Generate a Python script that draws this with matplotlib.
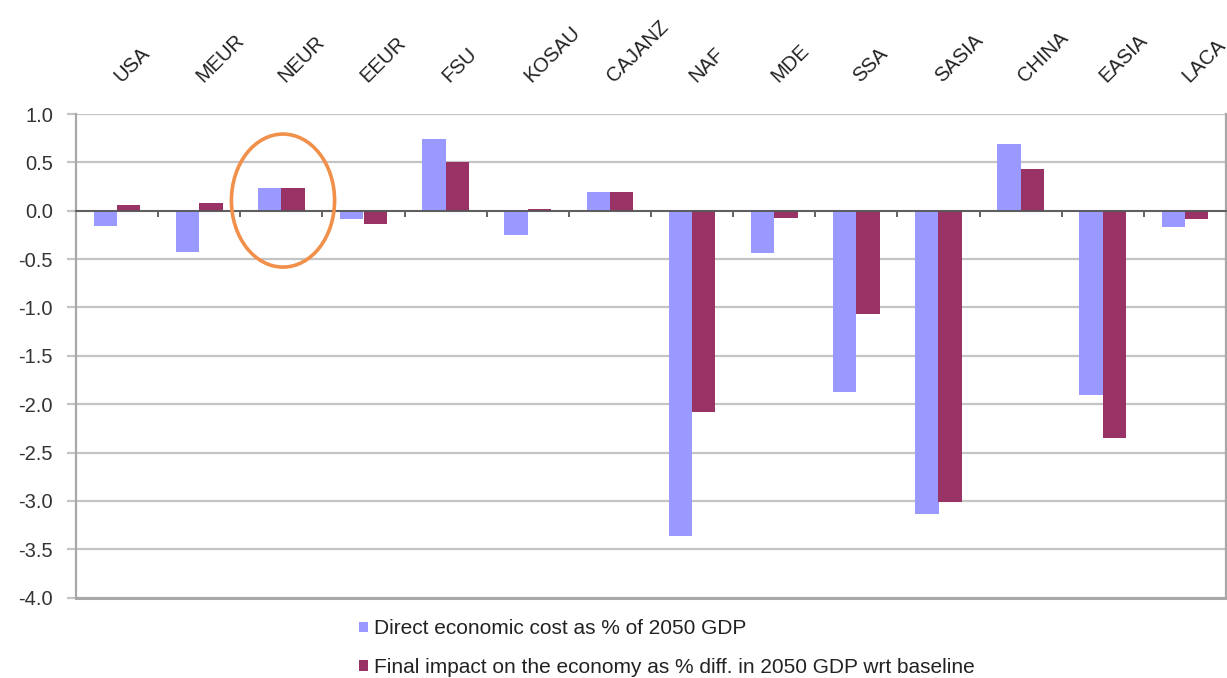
import matplotlib
matplotlib.use("Agg")
import matplotlib.pyplot as plt
from matplotlib.patches import Ellipse, Patch
import numpy as np

regions = ["USA", "MEUR", "NEUR", "EEUR", "FSU", "KOSAU", "CAJANZ", "NAF",
           "MDE", "SSA", "SASIA", "CHINA", "EASIA", "LACA"]
direct_cost = [-0.16, -0.43, 0.24, -0.09, 0.74, -0.25, 0.19, -3.36,
               -0.44, -1.87, -3.13, 0.69, -1.90, -0.17]
final_impact = [0.06, 0.08, 0.24, -0.14, 0.50, 0.02, 0.19, -2.08,
                -0.07, -1.07, -3.01, 0.43, -2.35, -0.09]
yticks = [1.0, 0.5, 0.0, -0.5, -1.0, -1.5, -2.0, -2.5, -3.0, -3.5, -4.0]
legend_labels = ["Direct economic cost as % of 2050 GDP",
                 "Final impact on the economy as % diff. in 2050 GDP wrt baseline"]

plt.rcParams['font.family'] = ['Liberation Sans', 'DejaVu Sans']

fig = plt.figure(figsize=(12.27, 6.78), dpi=100)
ax = fig.add_axes([76/1227, 80.3/678, 1150/1227, 483.7/678])

x = np.arange(len(regions))
w = 0.285
c1, c2 = "#9999FF", "#993366"
ax.bar(x - w/2, direct_cost, width=w, color=c1, zorder=3)
ax.bar(x + w/2, final_impact, width=w, color=c2, zorder=3)

ax.set_xlim(-0.5, len(regions) - 0.5)
ax.set_ylim(-4.0, 1.0)
ax.set_yticks(yticks)
ax.set_yticklabels([f"{v:.1f}" for v in yticks])
ax.yaxis.grid(True, color="#C4C4C4", lw=1.6, zorder=0)
ax.tick_params(axis='y', length=6.5, width=1.6, color="#C4C4C4",
               labelsize=14.5, labelcolor="#333333", pad=10)

# zero line as bottom spine with category boundary ticks
ax.spines['bottom'].set_position(('data', 0))
ax.spines['bottom'].set_color("#555555")
ax.spines['bottom'].set_linewidth(1.3)
ax.spines['bottom'].set_zorder(4)
ax.set_xticks(np.arange(len(regions) + 1) - 0.5)
ax.set_xticklabels([])
ax.tick_params(axis='x', direction='out', length=4, width=1.3, color="#555555")
ax.spines['top'].set_visible(False)
ax.spines['left'].set_color("#A8A8A8")
ax.spines['left'].set_linewidth(1.6)
ax.spines['right'].set_color("#A8A8A8")
ax.spines['right'].set_linewidth(1.6)
ax.axhline(-4.0, color="#A8A8A8", lw=2.2, zorder=2, clip_on=False)

# category labels on top
for i, name in enumerate(regions):
    ax.annotate(name, xy=(i, 1.0), xycoords=('data', 'axes fraction'),
                xytext=(4 * 0.72, 31 * 0.72), textcoords='offset points',
                rotation=45, rotation_mode='anchor', ha='left', va='baseline',
                fontsize=14.5, color="#222222", annotation_clip=False)

# highlight circle around NEUR
ax.add_patch(Ellipse((2.02, 0.105), 1.256, 1.375, fill=False,
                     edgecolor="#F0904A", lw=2.6, zorder=5))

# legend
handles = [Patch(facecolor=c1), Patch(facecolor=c2)]
fig.legend(handles, legend_labels, loc='upper left',
           bbox_to_anchor=(349/1227, 1 - 609/678), frameon=False,
           fontsize=15, handlelength=0.4, handleheight=0.4,
           handletextpad=0.3, labelspacing=0.95, borderpad=0,
           labelcolor="#222222")

fig.savefig("out.png", dpi=100)
